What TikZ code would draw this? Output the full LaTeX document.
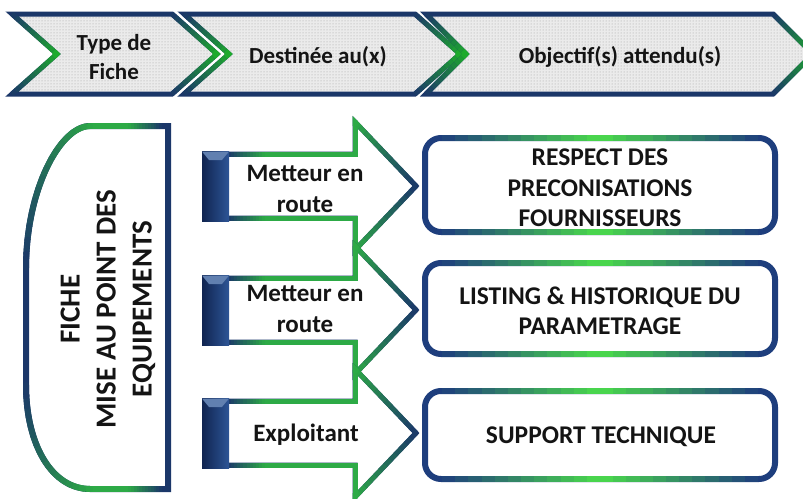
\documentclass[tikz,border=0pt]{standalone}
\usepackage{fontspec}
\setmainfont{Carlito}
\usetikzlibrary{calc,patterns}
\definecolor{navy}{RGB}{27,55,105}
\definecolor{boxnavy}{RGB}{30,62,125}
\definecolor{agreen}{RGB}{45,170,70}
\definecolor{cgreen}{RGB}{30,170,45}
\definecolor{bgreen}{RGB}{75,220,75}
\definecolor{blockdark}{RGB}{16,36,80}
\definecolor{blocklight}{RGB}{45,85,150}

\newcommand\gradline[4]{%
  \foreach \k in {1,...,12}{%
    \pgfmathsetmacro\gpc{100*(\k-0.5)/12}%
    \draw[seg,color=#4!\gpc!#3] ($(#1)!{(\k-1)/12}!(#2)$) -- ($(#1)!{\k/12}!(#2)$);
  }}
\newcommand\gradbez[6]{%
  \foreach \k in {0,...,16}{%
    \pgfmathsetmacro\gbt{\k/16}%
    \coordinate (qa) at ($(#1)!\gbt!(#2)$);
    \coordinate (qb) at ($(#2)!\gbt!(#3)$);
    \coordinate (qc) at ($(#3)!\gbt!(#4)$);
    \coordinate (ra) at ($(qa)!\gbt!(qb)$);
    \coordinate (rb) at ($(qb)!\gbt!(qc)$);
    \coordinate (bz\k) at ($(ra)!\gbt!(rb)$);
  }%
  \foreach \k [evaluate=\k as \kp using int(\k-1)] in {1,...,16}{%
    \pgfmathsetmacro\gpc{100*(\k-0.5)/16}%
    \draw[seg,line cap=round,color=#6!\gpc!#5] (bz\kp) -- (bz\k);
  }}
\newcommand\gcorner[4]{\draw[seg,line join=miter,color=#4] ($(#2)!4pt!(#1)$) -- (#2) -- ($(#2)!4pt!(#3)$);}

\newcommand\chevron[4]{% prefix, x left, x top-right, depth
  \coordinate (#1TL) at (#2,14);
  \coordinate (#1TR) at (#3,14);
  \coordinate (#1T) at ({#3+#4},54);
  \coordinate (#1BR) at (#3,94);
  \coordinate (#1BL) at (#2,94);
  \coordinate (#1N) at ({#2+#4},54);
  \fill[gray!16] (#1TL) -- (#1TR) -- (#1T) -- (#1BR) -- (#1BL) -- (#1N) -- cycle;
  \fill[pattern=dots,pattern color=gray!75] (#1TL) -- (#1TR) -- (#1T) -- (#1BR) -- (#1BL) -- (#1N) -- cycle;
  \draw[base] (#1TL) -- (#1TR) -- (#1T) -- (#1BR) -- (#1BL) -- (#1N) -- cycle;
  \gradline{#1TR}{#1T}{navy}{cgreen}
  \gradline{#1T}{#1BR}{cgreen}{navy}
  \gradline{#1BL}{#1N}{navy}{cgreen}
  \gradline{#1N}{#1TL}{cgreen}{navy}
  \gcorner{#1TR}{#1T}{#1BR}{cgreen}
  \gcorner{#1BL}{#1N}{#1TL}{cgreen}
}
\newcommand\arrowfill[1]{\fill[white] (228,{#1-32}) -- (355,{#1-32}) -- (355,{#1-64}) -- (416,#1) -- (355,{#1+64}) -- (355,{#1+32}) -- (228,{#1+32}) -- cycle;}
\newcommand\arrowline[2]{%
  \coordinate (#2a) at (228,{#1-32});
  \coordinate (#2m) at (265,{#1-32});
  \coordinate (#2b) at (355,{#1-32});
  \coordinate (#2c) at (355,{#1-64});
  \coordinate (#2t) at (416,#1);
  \coordinate (#2d) at (355,{#1+64});
  \coordinate (#2e) at (355,{#1+32});
  \coordinate (#2n) at (265,{#1+32});
  \coordinate (#2f) at (228,{#1+32});
  \draw[base] (#2a) -- (#2b) -- (#2c) -- (#2t) -- (#2d) -- (#2e) -- (#2f);
  \gradline{#2a}{#2m}{navy}{agreen}
  \gradline{#2m}{#2b}{agreen}{agreen}
  \gradline{#2b}{#2c}{agreen}{agreen}
  \gradline{#2c}{#2t}{agreen}{navy}
  \gradline{#2t}{#2d}{navy}{agreen}
  \gradline{#2d}{#2e}{agreen}{agreen}
  \gradline{#2e}{#2n}{agreen}{agreen}
  \gradline{#2n}{#2f}{agreen}{navy}
  \gcorner{#2m}{#2b}{#2c}{agreen}
  \gcorner{#2b}{#2c}{#2t}{agreen}
  \gcorner{#2t}{#2d}{#2e}{agreen}
  \gcorner{#2d}{#2e}{#2n}{agreen}
  \fill[left color=blockdark,right color=blocklight] (202,{#1-34.5}) rectangle (229,{#1+35});
  \fill[blocklight!75!white] (202,{#1-34.5}) -- (229,{#1-34.5}) -- (222,{#1-26}) -- (209,{#1-26}) -- cycle;
}
\newcommand\obox[2]{% y top, y bottom
  \draw[draw=boxnavy,line width=6pt,fill=white,rounded corners=16pt] (425,#1) rectangle (775,#2);
  \gradline{442,#1}{600,#1}{boxnavy}{bgreen}
  \gradline{600,#1}{758,#1}{bgreen}{boxnavy}
  \gradline{442,#2}{600,#2}{boxnavy}{bgreen}
  \gradline{600,#2}{758,#2}{bgreen}{boxnavy}
}

\begin{document}
\begin{tikzpicture}[x=1pt,y=-1pt,
  seg/.style={line width=5pt,line cap=butt},
  base/.style={draw=navy,line width=5pt,line join=miter},
  hfont/.style={font=\fontsize{23}{29}\selectfont\bfseries,align=center,inner sep=0pt,text=black!92},
  lfont/.style={font=\fontsize{29}{36}\selectfont\bfseries,align=center,inner sep=0pt,text=black!92},
  afont/.style={font=\fontsize{25}{31}\selectfont\bfseries,align=center,inner sep=0pt,text=black!92},
  bfont/.style={font=\fontsize{25.5}{30.5}\selectfont\bfseries,align=center,inner sep=0pt,text=black!92}]
\useasboundingbox (0,0) rectangle (803,498);
\clip (0,0) rectangle (803,498);
\fill[white] (0,0) rectangle (803,498);

% header chevrons
\chevron{c1}{12}{172}{45}
\chevron{c2}{184}{415}{45}
\chevron{c3}{426}{773}{40}

% left shape
\draw[base,line width=6pt,fill=white] (90,126) -- (168,126) -- (168,489) -- (90,489)
  .. controls (52,489) and (26,445) .. (26,385) -- (26,268)
  .. controls (26,190) and (60,126) .. (90,126) -- cycle;
\begin{scope}[seg/.style={line width=6pt,line cap=butt}]
\gradline{90,126}{128,126}{agreen}{agreen}
\gradline{128,126}{162,126}{agreen}{navy}
\gradbez{90,126}{60,126}{26,190}{26,268}{agreen}{navy}
\gradline{90,489}{128,489}{agreen}{agreen}
\gradline{128,489}{162,489}{agreen}{navy}
\gradbez{90,489}{52,489}{26,445}{26,385}{agreen}{navy}
\end{scope}

% arrows
\arrowfill{186}
\arrowfill{310}
\arrowfill{433}
\arrowline{186}{A}
\arrowline{310}{B}
\arrowline{433}{C}

% boxes
\begin{scope}[seg/.style={line width=6pt,line cap=butt}]
\obox{138}{232}
\obox{263}{354}
\obox{391}{479}
\end{scope}

% texts
\node[hfont] (t1) at (114,57) {Type de\\Fiche};
\node[hfont] (t2) at (318,57) {Destinée au(x)};
\node[hfont] (t3) at (620,57) {Objectif(s) attendu(s)};
\node[lfont,rotate=90] (fiche) at (108,309) {FICHE\\MISE AU POINT DES\\EQUIPEMENTS};
\node[afont] (a1) at (305,189) {Metteur en\\route};
\node[afont] (a2) at (305,309) {Metteur en\\route};
\node[afont] (a3) at (306,435) {Exploitant};
\node[bfont] (b1) at (600,188) {RESPECT DES\\PRECONISATIONS\\FOURNISSEURS};
\node[bfont] (b2) at (600,311) {LISTING \& HISTORIQUE DU\\PARAMETRAGE};
\node[bfont] (b3) at (601,437) {SUPPORT TECHNIQUE};
\end{tikzpicture}
\end{document}
